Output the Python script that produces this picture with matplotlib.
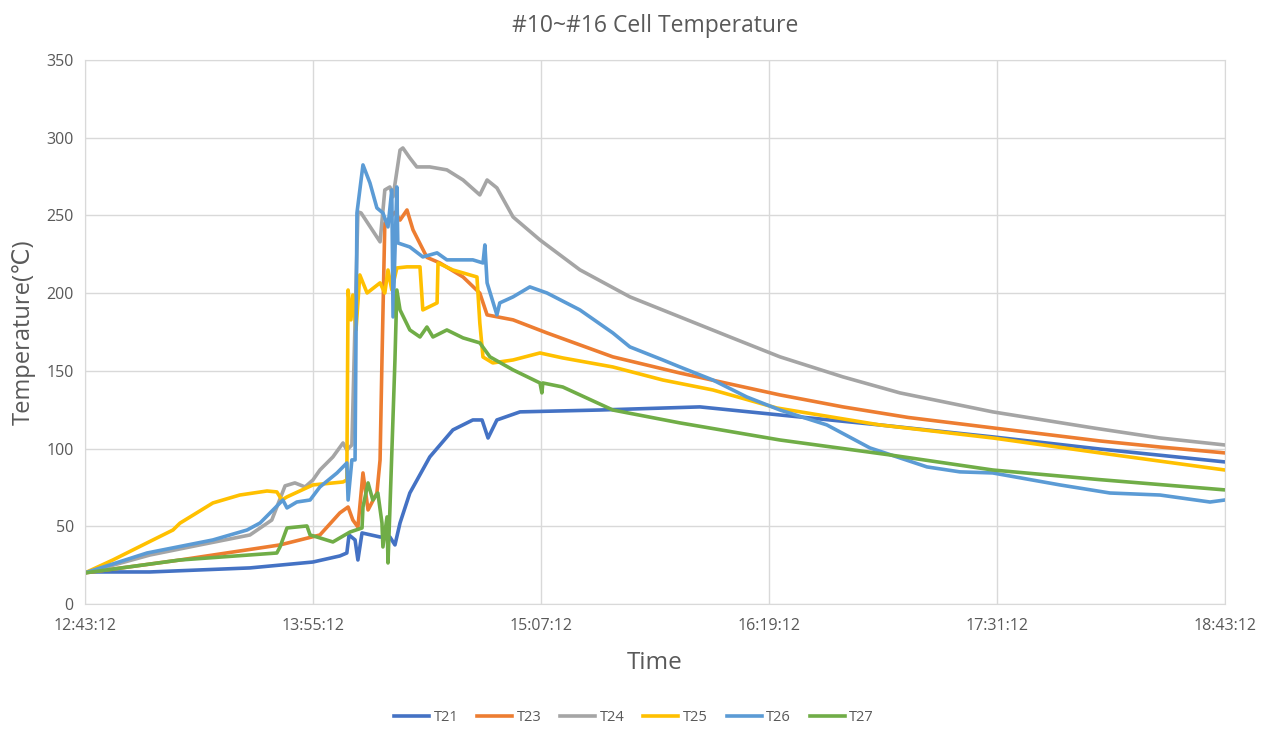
"""
#10~#16 cell temperature log, redrawn from the Excel chart.
Time is stored as minutes after 12:43:12.
"""

import matplotlib
matplotlib.use('Agg')
import matplotlib.pyplot as plt

plt.rcParams['font.family'] = ['Open Sans', 'DejaVu Sans']

# ---- data (minutes after start, degC) ----
t21_min = [0, 20.5, 52.1, 72, 80.5, 82.7, 83.4, 85.3, 86.2, 87.5, 93.2, 96.3, 97.9,
           99.5, 102.6, 108.9, 116.2, 122.5, 125.4, 127.3, 130.1, 137.4, 162.6,
           194.2, 219.5, 251, 286.7, 320.5, 360]
t21_val = [20.6, 20.6, 23.2, 27, 30.9, 32.8, 44.4, 41.2, 28.3, 45.7, 43.1, 43.1, 38,
           52.1, 71.4, 94.6, 112, 118.4, 118.4, 106.8, 118.4, 123.6, 124.8,
           126.8, 121.6, 115.2, 107.5, 99.7, 91.4]

t23_min = [0, 30, 61.6, 74.2, 80.5, 83.1, 84.6, 86.2, 87.8, 89.4, 92.2, 93.2, 93.8,
           94.7, 97.9, 99.5, 101.7, 103.6, 108, 112.1, 119.4, 124.7, 127, 135.2,
           145.9, 166.7, 187.9, 219.5, 239.4, 260, 286.7, 320.5, 339.5, 360]
t23_val = [20, 28.3, 38, 44.4, 58.6, 62.4, 54, 49.5, 84.3, 60.5, 71.4, 92.7, 157,
           245, 252, 247, 253.5, 240.7, 223, 219.4, 210.4, 200, 186, 182.8,
           174.4, 159, 148.6, 134.5, 126.8, 120, 113.3, 104.9, 101, 97.2]

t24_min = [0, 20.5, 36.3, 52.1, 59, 63.2, 66.3, 69.5, 72, 74.2, 78.3, 81.5, 82.7,
           84.3, 86.2, 87.2, 93.2, 94.7, 96.3, 97.3, 99.5, 100.4, 102.6, 104.8,
           108.9, 114.3, 119.4, 124.7, 127, 130.1, 135.2, 143.7, 156.3, 172.1,
           187.9, 203.7, 219.5, 239.4, 257.4, 286.7, 318.3, 339.5, 360]
t24_val = [20, 31.5, 38, 44.4, 54, 76, 77.9, 75.3, 79.8, 86.2, 94.6, 103.6, 99.1,
           102.3, 252.3, 251.6, 233, 266.4, 268.3, 262, 292, 293.4, 287, 281.2,
           281.2, 279.3, 272.8, 263.2, 272.8, 267.7, 249, 234.2, 215, 197.6,
           184.7, 171.8, 159, 146.1, 135.8, 123.6, 113.3, 106.8, 102.3]

t25_min = [0, 8.8, 19.6, 27.8, 30, 40.4, 48.9, 57.5, 60.6, 62.2, 63.8, 72, 81.5,
           82.7, 83.1, 84, 84.6, 85.6, 86.8, 89.1, 93.2, 94.7, 95.7, 96.9, 98.5,
           101.7, 105.8, 106.7, 111.2, 111.5, 116.2, 123.8, 124.7, 125.7, 128.8,
           135.2, 143.7, 150.9, 166.7, 182.5, 198.3, 218.5, 251, 286.7, 320.5, 360]
t25_val = [20, 28.3, 39.3, 47.6, 52, 65, 70.1, 72.7, 72.1, 66.9, 68.9, 76.6, 78.5,
           79.8, 202, 182.8, 198.8, 176.3, 211.7, 200.1, 206.6, 200.1, 214.9, 202.1,
           216.2, 216.9, 216.9, 189.2, 193.7, 219.4, 214.9, 210.4, 180.8, 158.9,
           155.1, 157, 161.5, 158.3, 152.5, 144.1, 137.7, 126.1, 115.2, 106.8,
           97.2, 86.2]

t26_min = [0, 19.6, 40.4, 51.2, 55.3, 59.4, 62.5, 63.8, 66.9, 71.1, 74.2, 79.6,
           82.7, 83.1, 84.3, 85.3, 85.9, 87.8, 90, 92.2, 94.1, 95.7, 96.9, 97.3,
           98.5, 98.8, 102.6, 106.7, 111.2, 114.3, 122.5, 125.7, 126.3, 127,
           130.1, 131, 135.2, 140.5, 145.9, 156.3, 166.7, 172.1, 182.5, 187.9,
           198.3, 209, 219.5, 234.3, 247.9, 265.9, 276.3, 286.7, 307.9, 323.7,
           339.5, 355.3, 360]
t26_val = [20, 32.8, 41.2, 47.6, 52.1, 60.5, 66.9, 61.8, 65.6, 66.9, 75.3, 84.3,
           90.7, 66.9, 92.7, 92.7, 251.6, 282.5, 270.9, 254.8, 251.6, 242.6, 266.4,
           184.7, 268.3, 232.3, 229.7, 223.3, 225.9, 221.4, 221.4, 219.4, 231,
           206.6, 186, 193.7, 197.6, 204, 200.1, 189.2, 174.4, 165.4, 157, 152.5,
           144.1, 133.2, 124.8, 115.2, 100.4, 88.2, 85, 84.3, 76.6, 71.4, 70.1,
           65.6, 66.9]

t27_min = [0, 30, 60.6, 61.6, 63.8, 70.1, 71.1, 74.2, 78.3, 83.7, 87.5, 87.8, 89.4,
           90.9, 92.5, 93.8, 94.1, 95.4, 95.7, 96.3, 97.9, 98.5, 99.5, 102.6,
           105.8, 108, 109.9, 114.3, 119.4, 124.7, 127.9, 135.2, 143.7, 144.3,
           144.6, 150.9, 166.7, 187.9, 219.5, 254.2, 286.7, 320.5, 360]
t27_val = [20, 28.3, 32.8, 36.7, 48.9, 50.2, 44.4, 42.5, 39.9, 46.3, 48.9, 62.4,
           77.9, 66.9, 71.4, 52.1, 36.7, 56, 26.4, 60.5, 157, 202, 189.2, 176.3,
           171.8, 178.2, 171.8, 176.3, 171.2, 168, 159, 150.6, 142.2, 135.8,
           142.2, 139.6, 124.8, 116.5, 105.5, 95.9, 86.2, 80, 73.4]

series_names = ['T21', 'T23', 'T24', 'T25', 'T26', 'T27']
tick_labels = ['12:43:12', '13:55:12', '15:07:12', '16:19:12', '17:31:12', '18:43:12']

# ---- plot ----
colors = ['#4472C4', '#ED7D31', '#A5A5A5', '#FFC000', '#5B9BD5', '#70AD47']
data = [(t21_min, t21_val), (t23_min, t23_val), (t24_min, t24_val),
        (t25_min, t25_val), (t26_min, t26_val), (t27_min, t27_val)]

fig = plt.figure(figsize=(12.68, 7.29), dpi=100)
ax = fig.add_axes([0.067, 0.1715, 0.899, 0.7462])

for (x, y), name, c in zip(data, series_names, colors):
    ax.plot(x, y, color=c, linewidth=2.6, label=name, solid_joinstyle='round')

ax.set_xlim(0, 360)
ax.set_ylim(0, 350)
ax.set_xticks([0, 72, 144, 216, 288, 360])
ax.set_xticklabels(tick_labels)
ax.set_yticks(range(0, 351, 50))
ax.grid(True, color='#D9D9D9', linewidth=1)
ax.set_axisbelow(True)
for s in ax.spines.values():
    s.set_color('#D9D9D9')
ax.tick_params(length=0, labelsize=11.5, colors='#595959')
ax.tick_params(axis='x', pad=10)
ax.tick_params(axis='y', pad=8)

ax.set_title('#10~#16 Cell Temperature', fontsize=16.5, color='#595959', pad=20)
ax.set_xlabel('Time', fontsize=17.5, color='#595959', labelpad=12)
ax.set_ylabel('Temperature(\u2103)', fontsize=17, color='#595959', labelpad=8)

leg = fig.legend(loc='lower center', bbox_to_anchor=(0.5, -0.012), ncol=6,
                 frameon=False, fontsize=10.5, handlelength=2.4, columnspacing=1.3,
                 handletextpad=0.3)
for t in leg.get_texts():
    t.set_color('#595959')

fig.savefig('out.png', dpi=100)
